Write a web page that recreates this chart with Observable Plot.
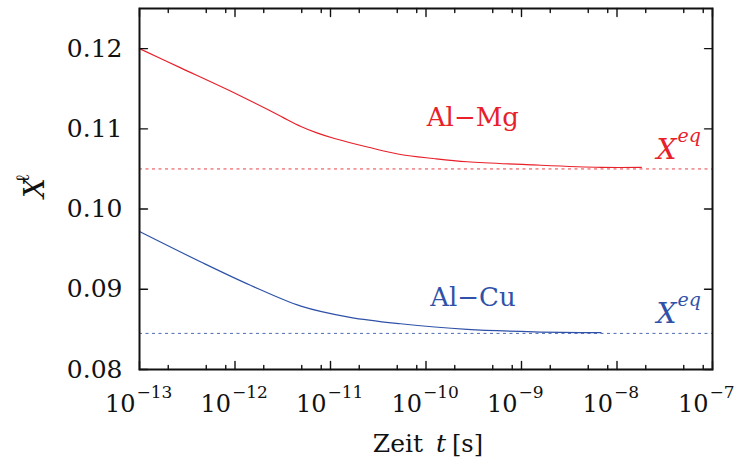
<!DOCTYPE html>
<html>
<head>
<meta charset="utf-8">
<script src="https://cdn.jsdelivr.net/npm/d3@7"></script>
<script src="https://cdn.jsdelivr.net/npm/@observablehq/plot@0.6"></script>
<style>
  body { margin: 0; background: #fff; }
  #chart svg { display: block; background: #fff; }
</style>
</head>
<body>
<div id="chart"></div>
<script>
// Liquid composition X^ℓ over time t (seconds) for two alloys
const seriesNames = ["Al−Mg", "Al−Cu"];
const seriesColors = ["#e8202a", "#2f52a8"];

const tAlMg = [1e-13, 2.7e-13, 8.3e-13, 2.2e-12, 3.2e-12, 4.9e-12, 7.2e-12, 1.1e-11, 2.5e-11, 5.4e-11, 1.2e-10, 2.7e-10, 1.35e-9, 6.8e-9, 1.8e-8];
const xAlMg = [0.1200, 0.1176, 0.1149, 0.1124, 0.1114, 0.1103, 0.1095, 0.1088, 0.1077, 0.1068, 0.1063, 0.1059, 0.1055, 0.1052, 0.1052];

const tAlCu = [1e-13, 4.4e-13, 1.45e-12, 4.9e-12, 1.6e-11, 5.4e-11, 2.7e-10, 1.35e-9, 6.8e-9];
const xAlCu = [0.0972, 0.0934, 0.0905, 0.0879, 0.0865, 0.0857, 0.0850, 0.0847, 0.0846];

// equilibrium compositions X^eq
const eqValues = [0.1050, 0.0845];

// axis ticks
const decadeExponents = [-13, -12, -11, -10, -9, -8, -7];
const minorFactors = [2, 5, 8];
const yTicks = [0.08, 0.09, 0.10, 0.11, 0.12];

const curves = [
  ...tAlMg.map((t, i) => ({series: seriesNames[0], t, x: xAlMg[i]})),
  ...tAlCu.map((t, i) => ({series: seriesNames[1], t, x: xAlCu[i]}))
];
const eqRows = eqValues.map((v, i) => ({series: seriesNames[i], v}));
const majorX = decadeExponents.map((e) => Math.pow(10, e));
const minorX = decadeExponents.slice(0, -1).flatMap((e) => minorFactors.map((f) => f * Math.pow(10, e)));

const ink = "#111";
const serif = {fontFamily: "DejaVu Serif"};
const tickShape = {draw(ctx, l) { ctx.moveTo(0, 0); ctx.lineTo(0, -l); }};
const tickOpts = {shape: tickShape, anchor: "start", stroke: ink, strokeWidth: 1.4};

const color = (name) => seriesColors[seriesNames.indexOf(name)];

const chart = Plot.plot({
  width: 742,
  height: 464,
  marginLeft: 139,
  marginRight: 30,
  marginTop: 8,
  marginBottom: 95,
  style: {background: "#fff", fontFamily: "DejaVu Serif"},
  x: {type: "log", domain: [1e-13, 1e-7], axis: null},
  y: {domain: [0.08, 0.125], axis: null},
  marks: [
    // equilibrium levels
    Plot.ruleY(eqRows, {y: "v", stroke: (d) => color(d.series), strokeWidth: 1, strokeDasharray: "3,3.5", strokeOpacity: 0.85}),
    // time evolution curves
    Plot.line(curves, {x: "t", y: "x", z: "series", stroke: (d) => color(d.series), strokeWidth: 1.2, curve: "catmull-rom"}),

    // series names
    Plot.text(seriesNames, {
      x: () => 3.1e-10,
      y: (d, i) => [0.1103, 0.0879][i],
      text: (d) => d,
      fill: (d) => color(d),
      fontSize: 26, textAnchor: "middle", lineAnchor: "bottom", ...serif
    }),
    // X^eq labels
    Plot.text(eqRows, {y: "v", frameAnchor: "right", text: () => "X", fill: (d) => color(d.series),
      fontSize: 28, fontStyle: "italic", textAnchor: "start", lineAnchor: "bottom", dx: -56, dy: -10, ...serif}),
    Plot.text(eqRows, {y: "v", frameAnchor: "right", text: () => "eq", fill: (d) => color(d.series),
      fontSize: 19, fontStyle: "italic", textAnchor: "start", lineAnchor: "bottom", dx: -35, dy: -27, ...serif}),

    // inward ticks on all four sides
    Plot.vector(majorX, {x: (d) => d, frameAnchor: "bottom", length: 8, rotate: 0, ...tickOpts}),
    Plot.vector(minorX, {x: (d) => d, frameAnchor: "bottom", length: 4, rotate: 0, ...tickOpts}),
    Plot.vector(majorX, {x: (d) => d, frameAnchor: "top", length: 8, rotate: 180, ...tickOpts}),
    Plot.vector(minorX, {x: (d) => d, frameAnchor: "top", length: 4, rotate: 180, ...tickOpts}),
    Plot.vector(yTicks, {y: (d) => d, frameAnchor: "left", length: 8, rotate: 90, ...tickOpts}),
    Plot.vector(yTicks, {y: (d) => d, frameAnchor: "right", length: 8, rotate: -90, ...tickOpts}),

    // y tick labels
    Plot.text(yTicks, {y: (d) => d, frameAnchor: "left", text: d3.format(".2f"), fill: ink,
      fontSize: 25, textAnchor: "end", lineAnchor: "middle", dx: -17, ...serif}),
    // x tick labels 10^n
    Plot.text(majorX, {x: (d) => d, frameAnchor: "bottom", text: () => "10", fill: ink,
      fontSize: 24, textAnchor: "end", lineAnchor: "bottom", dx: -4, dy: 42, ...serif}),
    Plot.text(decadeExponents, {x: (e) => Math.pow(10, e), frameAnchor: "bottom", text: (e) => "−" + Math.abs(e), fill: ink,
      fontSize: 17, textAnchor: "start", lineAnchor: "bottom", dx: -3, dy: 28, ...serif}),

    // x axis title: Zeit t [s]
    Plot.text(["Zeit"], {frameAnchor: "bottom", text: (d) => d, fill: ink, fontSize: 25, textAnchor: "end", lineAnchor: "bottom", dx: -3, dy: 82, ...serif}),
    Plot.text(["t"], {frameAnchor: "bottom", text: (d) => d, fill: ink, fontSize: 25, fontStyle: "italic", textAnchor: "middle", lineAnchor: "bottom", dx: 15, dy: 82, ...serif}),
    Plot.text(["[s]"], {frameAnchor: "bottom", text: (d) => d, fill: ink, fontSize: 24, textAnchor: "start", lineAnchor: "bottom", dx: 26, dy: 82, ...serif}),

    // y axis title: X^ℓ
    Plot.text(["X"], {frameAnchor: "left", text: (d) => d, fill: ink, fontSize: 28, fontStyle: "italic", rotate: -90,
      textAnchor: "middle", lineAnchor: "bottom", dx: -96, dy: -1, ...serif}),
    Plot.text(["ℓ"], {frameAnchor: "left", text: (d) => d, fill: ink, fontSize: 19, rotate: -90,
      textAnchor: "start", lineAnchor: "bottom", dx: -111, dy: -6, ...serif}),

    Plot.frame({stroke: ink, strokeWidth: 2})
  ]
});

document.getElementById("chart").append(chart);
</script>
</body>
</html>
